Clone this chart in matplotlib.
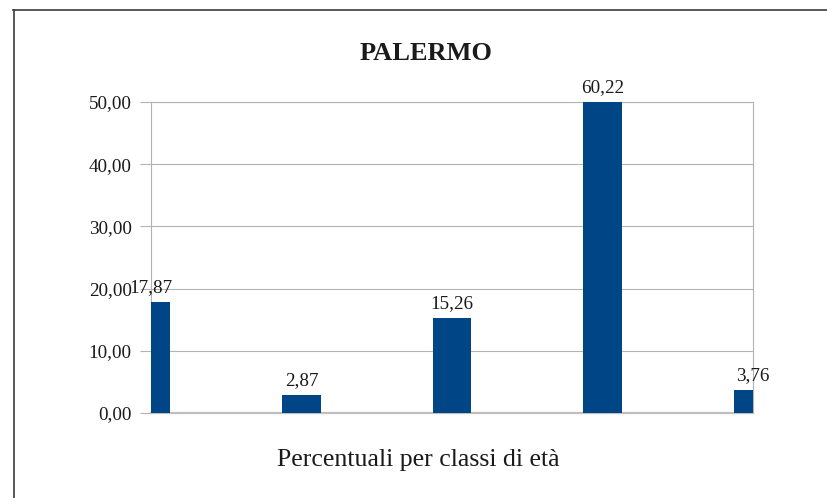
import matplotlib
matplotlib.use("Agg")
import matplotlib.pyplot as plt
from matplotlib.lines import Line2D

# age-class percentages for Palermo
classes = ["0-14", "15-24", "25-44", "45-64", "65+"]
percentuali = [17.87, 2.87, 15.26, 60.22, 3.76]
y_ticks = [0, 10, 20, 30, 40, 50]

BAR_COLOR = "#004586"
GRID_COLOR = "#b3b3b3"
TEXT_COLOR = "#1a1a1a"

plt.rcParams["font.family"] = ["Liberation Serif", "DejaVu Serif"]


def comma(v):
    return f"{v:.2f}".replace(".", ",")


fig = plt.figure(figsize=(8.27, 4.98), dpi=100)
ax = fig.add_axes([151 / 827, 85 / 498, 602 / 827, 311 / 498])

x = list(range(len(classes)))
ax.bar(x, percentuali, width=0.253, color=BAR_COLOR, zorder=3)
ax.set_xlim(0, len(classes) - 1)
ax.set_ylim(0, 50)

ax.set_yticks(y_ticks)
ax.set_yticklabels([comma(t) for t in y_ticks], fontsize=13.8, color=TEXT_COLOR)
ax.tick_params(axis="y", length=8, width=0.8, color=GRID_COLOR, pad=6)
ax.set_xticks([])
ax.grid(axis="y", color=GRID_COLOR, linewidth=0.8, zorder=0)

for side in ["top", "right", "left"]:
    ax.spines[side].set_color(GRID_COLOR)
    ax.spines[side].set_linewidth(0.8)
ax.spines["bottom"].set_color("#bfbfbf")
ax.spines["bottom"].set_linewidth(1.6)

# value labels, placed above the visible part of each bar
for xi, v in zip(x, percentuali):
    ax.annotate(comma(v), (xi, min(v, 50)), xytext=(0, 4), textcoords="offset points",
                ha="center", va="bottom", fontsize=13.8, color=TEXT_COLOR,
                annotation_clip=False)

fig.text(426 / 827, 1 - 53 / 498, "PALERMO", ha="center", va="center",
         fontsize=19, fontweight="bold", color=TEXT_COLOR)
fig.text(418 / 827, 1 - 460 / 498, "Percentuali per classi di età", ha="center",
         va="center", fontsize=18.6, color=TEXT_COLOR)

# outer frame, only left and top edges are visible
fig.add_artist(Line2D([13.5 / 827, 13.5 / 827], [0, 1 - 10 / 498], transform=fig.transFigure,
                      color="#3c3c3c", linewidth=1.2))
fig.add_artist(Line2D([13 / 827, 1], [1 - 10 / 498, 1 - 10 / 498], transform=fig.transFigure,
                      color="#3c3c3c", linewidth=1.2))

fig.savefig("out.png", dpi=100)
